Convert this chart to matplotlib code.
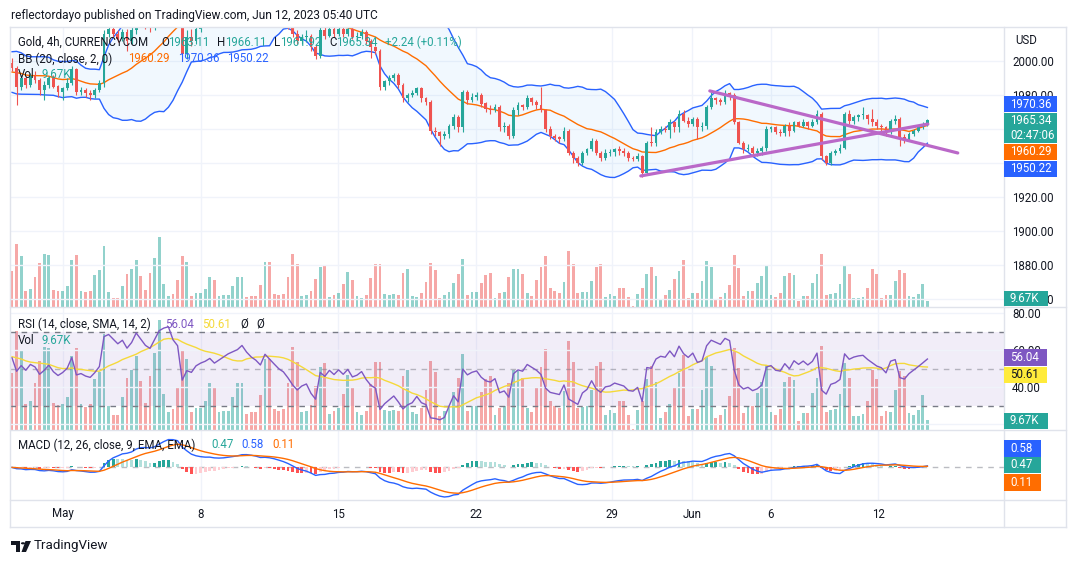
import numpy as np
import pandas as pd
import matplotlib
matplotlib.use("Agg")
import matplotlib.pyplot as plt
from matplotlib.patches import Rectangle, Polygon, Circle
from matplotlib.lines import Line2D

plt.rcParams['font.family'] = ['Roboto', 'DejaVu Sans']

# ---------------- data ----------------
first_open = 1999
closes = [
    1996, 1985, 1990, 1986, 1991, 1989, 1983, 1986, 1990, 1985,
    1982, 1984, 1987, 1995, 1982, 1983, 1981, 1980, 1983, 1987,
    2016, 2019, 2016, 2013, 2017, 2012, 2018, 2030, 2026, 2022,
    2020, 2030, 2042, 2046, 2048, 2040, 2036, 2004, 2014, 2012,
    2019, 2022, 2024, 2027, 2023, 2026, 2029, 2032, 2034, 2036,
    2040, 2036, 2033, 2031, 2028, 2036, 2033, 2030, 2027, 2025,
    2021, 2016, 2012, 2014, 2015, 2008, 2003, 2018, 2015, 2019,
    2016, 2019, 2016, 2019, 2014, 2015, 2017, 2012, 2008, 2006,
    1985, 1988, 1990, 1992, 1986, 1978, 1980, 1981, 1984, 1978,
    1976, 1959, 1958, 1956, 1957, 1962, 1967, 1961, 1982, 1977,
    1979, 1980, 1975, 1972, 1971, 1973, 1961, 1962, 1956, 1971,
    1974, 1973, 1978, 1976, 1974, 1971, 1960, 1956, 1955, 1954,
    1959, 1946, 1943, 1940, 1946, 1948, 1953, 1946, 1943, 1946,
    1946.5, 1948, 1947, 1946, 1943, 1942.5, 1944, 1934, 1952, 1951.5,
    1958, 1960, 1959.5, 1964, 1961, 1969, 1965, 1963, 1966, 1961,
    1962, 1973, 1978, 1977, 1976, 1981, 1980, 1964, 1952, 1948,
    1949, 1946, 1947, 1949, 1960, 1961, 1958, 1957.5, 1962, 1959,
    1964, 1962, 1964, 1962, 1964, 1969, 1944, 1940, 1946, 1947,
    1949, 1969, 1965, 1967, 1968, 1968.5, 1966, 1964, 1962, 1961,
    1958, 1965, 1966, 1955, 1954, 1957, 1959, 1961, 1963.11, 1965.34]
highs = [
    2002, 1997, 1992, 1991, 1993, 1994, 1990, 1988, 1991, 1992,
    1986, 1985, 1990, 1997, 1996, 1985, 1984, 1983, 1984, 1989,
    2018, 2022, 2021, 2018, 2019, 2019, 2020, 2033, 2034, 2028,
    2025, 2033, 2050, 2054, 2058, 2050, 2042, 2037, 2018, 2019,
    2022, 2025, 2027, 2030, 2029, 2028, 2031, 2034, 2037, 2039,
    2044, 2042, 2038, 2035, 2033, 2039, 2038, 2035, 2032, 2029,
    2027, 2023, 2018, 2016, 2018, 2016, 2010, 2020, 2020, 2021,
    2021, 2021, 2020, 2021, 2020, 2017, 2019, 2018, 2013, 2009,
    2007, 1989, 1992, 1993, 1993, 1987, 1981, 1983, 1985, 1985,
    1979, 1977, 1961, 1959, 1959, 1963, 1969, 1968, 1983, 1983,
    1981, 1982, 1981, 1976, 1974, 1975, 1974, 1964, 1963, 1973,
    1976, 1975, 1980, 1979, 1977, 1985, 1972, 1962, 1957, 1956,
    1961, 1960, 1947, 1944, 1947, 1949, 1955, 1954, 1947, 1948,
    1948, 1949, 1950, 1949, 1947, 1944, 1946, 1945, 1953, 1961,
    1960, 1962, 1962, 1966, 1965, 1971, 1971, 1967, 1967, 1967,
    1964, 1974, 1982, 1979, 1978, 1983, 1982, 1981, 1965, 1953,
    1951, 1950, 1949, 1950, 1962, 1962, 1962, 1960, 1963, 1964,
    1965, 1965, 1966, 1965, 1966, 1971, 1970, 1945, 1947, 1948,
    1951, 1970, 1971, 1968, 1969, 1973, 1969, 1972, 1966, 1963,
    1962, 1966, 1968, 1967, 1957, 1958, 1960, 1962, 1964, 1966.11]
lows = [
    1994, 1974, 1983, 1984, 1985, 1987, 1980, 1977, 1984, 1984,
    1979, 1977, 1983, 1986, 1980, 1980, 1979, 1977, 1978, 1982,
    1985, 2014, 2014, 2011, 2012, 2006, 2010, 2016, 2024, 2019,
    2017, 2018, 2028, 2040, 2044, 2036, 2032, 2000, 2001, 2009,
    2010, 2017, 2020, 2022, 2021, 2021, 2024, 2027, 2030, 2032,
    2034, 2034, 2031, 2029, 2026, 2026, 2031, 2028, 2025, 2023,
    2019, 2014, 2010, 2010, 2011, 2006, 2001, 2002, 2013, 2014,
    2014, 2015, 2014, 2015, 2013, 2012, 2013, 2010, 2002, 2004,
    1983, 1983, 1986, 1988, 1984, 1976, 1976, 1979, 1980, 1976,
    1974, 1957, 1956, 1950, 1954, 1955, 1960, 1958, 1958, 1975,
    1976, 1977, 1973, 1970, 1969, 1970, 1959, 1958, 1954, 1955,
    1968, 1971, 1972, 1974, 1972, 1970, 1958, 1954, 1953, 1952,
    1953, 1945, 1940, 1938, 1939, 1945, 1947, 1945, 1941, 1942,
    1944, 1944, 1945, 1944, 1941, 1941, 1941, 1932, 1933, 1950,
    1950, 1957, 1958, 1955, 1958, 1958, 1964, 1961, 1962, 1954,
    1959, 1960, 1972, 1975, 1974, 1975, 1977, 1963, 1951, 1946,
    1947, 1944, 1944, 1945, 1947, 1958, 1957, 1956, 1956, 1956,
    1958, 1961, 1961, 1960, 1961, 1963, 1942, 1939, 1939, 1945,
    1946, 1948, 1963, 1963, 1965, 1966, 1963, 1962, 1960, 1959,
    1956, 1957, 1963, 1950, 1952, 1953, 1956, 1958, 1960, 1961.92]
volumes_k = [
    54.5, 95, 77, 24.5, 27.5, 45.5, 66.5, 80, 78.5, 26,
    24, 24.5, 32, 71, 78.5, 24.5, 22.5, 24.5, 48.5, 56,
    92, 23, 14, 14, 32, 50, 57.5, 71, 47, 26,
    51.5, 74, 105.5, 35, 17, 20, 41, 77, 68, 17,
    21.5, 21.5, 27.5, 45.5, 41, 17, 18, 18.5, 32, 45.5,
    45.5, 15.5, 17, 17, 33.5, 68, 68, 20, 18.5, 20,
    45.5, 80, 65.5, 17, 18.5, 24, 42.5, 60.5, 64, 15.5,
    18.5, 21, 35, 53, 41, 17, 14, 18.5, 44, 65.5,
    65, 19.5, 18.5, 19, 18.5, 51.5, 57.5, 17, 15.5, 21.5,
    38, 66.5, 56, 13.5, 18.5, 23, 36.5, 50, 72.5, 18.5,
    23, 23, 36.5, 48.5, 51.5, 14, 21, 23, 45.5, 57.5,
    57, 50, 21.5, 17, 41, 60, 77.5, 28, 23.5, 21,
    37, 85, 65.5, 21, 22, 23, 38.5, 61, 65.5, 14.5,
    19, 16, 28, 28, 14.5, 1, 19, 28, 49, 61,
    46, 11.5, 17.5, 25, 41.5, 55, 71.5, 13, 20.5, 20.5,
    38.5, 70, 61, 11.5, 14.5, 20.5, 32.5, 79, 59.5, 16,
    23.5, 23.5, 35.5, 46, 62.5, 17.5, 14.5, 20.5, 46, 50.5,
    48, 8.5, 16, 16, 35.5, 49.5, 80.5, 17.5, 19, 20.5,
    34.5, 64, 49.5, 13, 13, 15.5, 28, 58, 49, 13,
    18.5, 17.5, 38.5, 56.5, 51.5, 16, 14.5, 19, 34, 9.67]
# closes before the visible range (estimated so the indicators start as shown)
warmup_closes = [1994, 1998, 1991, 1987, 1993, 1999, 1996, 1989, 1992, 1997,
                 1985, 1992, 2000, 2004, 1997, 1990, 1983, 1988, 1995, 2001,
                 1998, 1991, 1984, 1987, 1994, 2002, 1999, 1993, 1986, 1990]
# trend lines drawn on the chart: (bar, price) endpoints
trend_upper = [(151.7, 1982.4), (205.6, 1945.9)]
trend_lower = [(136.7, 1932.4), (199.1, 1962.9)]
date_tick_bars = [11.1, 41.1, 70.9, 100.9, 130.4, 147.8, 165.0, 188.3]
date_tick_labels = ['May', '8', '15', '22', '29', 'Jun', '6', '12']
price_ticks = [1860, 1880, 1900, 1920, 1940, 1960, 1980, 2000]
price_tick_labels = ['1860.00', '1880.00', '1900.00', '1920.00', '', '', '1980.00', '2000.00']
rsi_ticks = [20, 40, 60, 80]
rsi_tick_labels = ['', '40.00', '60.00', '80.00']

# ---------------- indicators ----------------
n_w = len(warmup_closes)
allc = pd.Series(warmup_closes + closes, dtype=float)
mid = allc.rolling(20).mean()
sd = allc.rolling(20).std(ddof=0)
upper = (mid + 2 * sd).values[n_w:]
lower = (mid - 2 * sd).values[n_w:]
mid = mid.values[n_w:]
delta = allc.diff()
ag = delta.clip(lower=0).ewm(alpha=1 / 14, adjust=False).mean()
al = (-delta.clip(upper=0)).ewm(alpha=1 / 14, adjust=False).mean()
rsi_s = 100 - 100 / (1 + ag / al)
rsi_ma = rsi_s.rolling(14).mean().values[n_w:]
rsi = rsi_s.values[n_w:]
macd_s = allc.ewm(span=12, adjust=False).mean() - allc.ewm(span=26, adjust=False).mean()
sig_s = macd_s.ewm(span=9, adjust=False).mean()
macd = macd_s.values[n_w:]
sig = sig_s.values[n_w:]
hist = macd - sig

c = np.array(closes, float)
o = np.array([first_open] + closes[:-1], float)
h = np.array(highs, float)
l = np.array(lows, float)
v = np.array(volumes_k, float)
N = len(c)
x = np.arange(N)

GREEN = '#26a69a'
RED = '#ef5350'
BLUE = '#2962ff'
ORANGE = '#ff6d00'
PURPLE = '#7e57c2'
YELLOW = '#f5d93a'
DARK = '#131722'
GRID = '#f0f3fa'
BORDER = '#e0e3eb'

up = c >= o
col = np.where(up, GREEN, RED)

# ---------------- figure ----------------
W, H = 1079, 563
fig = plt.figure(figsize=(W / 100, H / 100), dpi=100)
fig.patch.set_facecolor('white')


def fx(px):
    return px / W


def fy(py):
    return 1 - py / H


def add_ax(x0, y0, x1, y1, z=0):
    a = fig.add_axes([fx(x0), fy(y1), (x1 - x0) / W, (y1 - y0) / H])
    a.set_zorder(z)
    for s_ in a.spines.values():
        s_.set_visible(False)
    return a


X0PIX, DX = 12.0, 4.6
XL, XR = 10, 1004
xlim = ((XL - X0PIX) / DX, (XR - X0PIX) / DX)

ax_v = add_ax(XL, 27, XR, 307, 0)
ax = add_ax(XL, 27, XR, 307, 1)
ax_rv = add_ax(XL, 307, XR, 430, 0)
ax_r = add_ax(XL, 307, XR, 430, 1)
ax_m = add_ax(XL, 430, XR, 500, 1)

for a in (ax, ax_r):
    a.patch.set_visible(False)
for a in (ax_v, ax, ax_rv, ax_r, ax_m):
    a.set_xlim(*xlim)
    a.set_xticks(date_tick_bars)
    a.tick_params(axis='x', length=0, labelbottom=False)
    a.tick_params(axis='y', length=0)
for a in (ax_v, ax_rv):
    a.set_yticks([])
    a.grid(axis='x', color=GRID, lw=1)
    a.set_axisbelow(True)
ax_m.grid(axis='x', color=GRID, lw=1)
ax_m.set_axisbelow(True)
ax_m.set_yticks([])

# ---- main pane ----
ax.set_ylim(1980 - (307 - 95) / 1.7, 1980 + (95 - 27) / 1.7)
ax.set_yticks(price_ticks)
ax.set_yticklabels(price_tick_labels)
ax.yaxis.tick_right()
ax.tick_params(axis='y', length=0, pad=5.8, labelsize=8.3, labelcolor=DARK)
ax.grid(axis='y', color=GRID, lw=1)
ax.set_axisbelow(True)

ax.fill_between(x, lower, upper, color='#2196f3', alpha=0.06, lw=0, zorder=1)
ax.plot(x, upper, color=BLUE, lw=1.0, zorder=2)
ax.plot(x, lower, color=BLUE, lw=1.0, zorder=2)
ax.plot(x, mid, color=ORANGE, lw=1.0, zorder=2)
ax.vlines(x, l, h, colors=col, lw=0.8, zorder=3)
ax.bar(x, np.maximum(np.abs(c - o), 0.6), bottom=np.minimum(o, c), width=0.62,
       color=col, lw=0, zorder=4)
for seg in (trend_upper, trend_lower):
    ax.plot([seg[0][0], seg[1][0]], [seg[0][1], seg[1][1]], color='#ba68c8',
            lw=2.3, solid_capstyle='round', zorder=5)

ax_v.set_ylim(0, 422)
ax_v.bar(x, v, width=0.62, color=col, alpha=0.5, lw=0)

# ---- RSI pane ----
ax_r.set_ylim(80 - (430 - 313) * 20 / 37, 80 + (313 - 307) * 20 / 37)
ax_r.set_yticks(rsi_ticks)
ax_r.set_yticklabels(rsi_tick_labels)
ax_r.yaxis.tick_right()
ax_r.tick_params(axis='y', length=0, pad=5.8, labelsize=8.3, labelcolor=DARK)
ax_r.grid(axis='y', color=GRID, lw=1)
ax_r.set_axisbelow(True)
ax_r.axhspan(30, 70, color=PURPLE, alpha=0.1, lw=0, zorder=0.5)
ax_r.axhline(70, color='#787b86', lw=1, ls=(0, (4, 4)), zorder=1)
ax_r.axhline(30, color='#787b86', lw=1, ls=(0, (4, 4)), zorder=1)
ax_r.axhline(50, color='#787b86', lw=1, ls=(0, (4, 4)), alpha=0.5, zorder=1)
ax_r.plot(x, rsi_ma, color=YELLOW, lw=1.0, zorder=3)
ax_r.plot(x, rsi, color=PURPLE, lw=1.0, zorder=4)
ax_rv.set_ylim(0, 118)
ax_rv.bar(x, v, width=0.62, color=col, alpha=0.5, lw=0)

# ---- MACD pane ----
hcol = []
for i in range(N):
    prev = hist[i - 1] if i > 0 else hist[i]
    if hist[i] >= 0:
        hcol.append(GREEN if hist[i] > prev else '#b2dfdb')
    else:
        hcol.append('#ffcdd2' if hist[i] > prev else '#ff5252')
s = max(np.abs(macd).max(), np.abs(sig).max()) / 30.0
ax_m.set_ylim(-33 * s, 37 * s)
ax_m.axhline(0, color='#787b86', lw=1, ls=(0, (4, 4)), alpha=0.5, zorder=1)
ax_m.bar(x, hist, width=0.62, color=hcol, lw=0, zorder=2)
ax_m.plot(x, macd, color=BLUE, lw=1.0, zorder=3)
ax_m.plot(x, sig, color=ORANGE, lw=1.0, zorder=3)
ax_m.set_xticklabels(date_tick_labels)
ax_m.tick_params(axis='x', labelbottom=True, pad=5.4, labelsize=8.3, labelcolor=DARK)

# ---------------- frame lines ----------------
def fline(x0, y0, x1, y1, color=BORDER, lw=1.0):
    fig.add_artist(Line2D([fx(x0), fx(x1)], [fy(y0), fy(y1)], transform=fig.transFigure,
                          color=color, lw=lw, zorder=5))

fline(10, 27, 1066, 27)
fline(10, 527, 1066, 527)
fline(10, 27, 10, 527)
fline(1066, 27, 1066, 527)
fline(1004, 27, 1004, 527)
fline(10, 307, 1066, 307)
fline(10, 430, 1066, 430)
fline(10, 500, 1066, 500)

# ---------------- texts ----------------
FS = 8.3


def ftext(px, py, s_, color=DARK, size=FS, **kw):
    fig.text(fx(px), fy(py), s_, color=color, fontsize=size, va='center', ha='left', **kw)


ftext(11, 15, 'reflectordayo published on TradingView.com, Jun 12, 2023 05:40 UTC', size=8.6)

for txt, px, colr in [('Gold, 4h, CURRENCYCOM', 18, DARK), ('O', 161, DARK), ('1963.11', 168, GREEN),
                      ('H', 217, DARK), ('1966.11', 225, GREEN), ('L', 274, DARK),
                      ('1961.92', 280, GREEN), ('C', 329, DARK), ('1965.34', 336, GREEN),
                      ('+2.24 (+0.11%)', 385, GREEN)]:
    ftext(px, 42, txt, colr)
for txt, px, colr in [('BB (20, close, 2, 0)', 18, DARK), ('1960.29', 128, ORANGE),
                      ('1970.36', 178, BLUE), ('1950.22', 227, BLUE)]:
    ftext(px, 59, txt, colr)
ftext(18, 75, 'Vol', DARK)
ftext(42, 75, '9.67K', GREEN)

for txt, px, colr in [('RSI (14, close, SMA, 14, 2)', 18, DARK), ('56.04', 165, PURPLE),
                      ('50.61', 202, YELLOW), ('Ø', 240, DARK), ('Ø', 256, DARK)]:
    ftext(px, 324, txt, colr)
ftext(18, 340, 'Vol', DARK)
ftext(42, 340, '9.67K', GREEN)

for txt, px, colr in [('MACD (12, 26, close, 9, EMA, EMA)', 18, DARK), ('0.47', 211, GREEN),
                      ('0.58', 241, BLUE), ('0.11', 272, ORANGE)]:
    ftext(px, 445, txt, colr)

ftext(1015, 40, 'USD', DARK)


def axis_box(y0, y1, w, color, lines, tc='white'):
    fig.add_artist(Rectangle((fx(1004), fy(y1)), w / W, (y1 - y0) / H, transform=fig.transFigure,
                             facecolor=color, edgecolor='none', zorder=10))
    k = len(lines)
    for j, t in enumerate(lines):
        yc = y0 + (y1 - y0) * (j + 0.5) / k
        fig.text(fx(1010), fy(yc), t, color=tc, fontsize=FS, va='center', ha='left', zorder=11)


axis_box(96, 112, 53, BLUE, ['1970.36'])
axis_box(113, 143, 53, GREEN, ['1965.34', '02:47:06'])
axis_box(144, 160, 53, ORANGE, ['1960.29'])
axis_box(161, 177, 53, BLUE, ['1950.22'])
axis_box(291, 306, 44, GREEN, ['9.67K'])
axis_box(349, 366, 43, PURPLE, ['56.04'])
axis_box(367, 383, 43, '#ffeb3b', ['50.61'], tc=DARK)
axis_box(413, 429, 44, GREEN, ['9.67K'])
axis_box(440, 457, 37, BLUE, ['0.58'])
axis_box(457, 473, 37, GREEN, ['0.47'])
axis_box(474, 491, 37, ORANGE, ['0.11'])

# footer logo
def fpoly(pts, color=DARK):
    fig.add_artist(Polygon([(fx(a), fy(b)) for a, b in pts], closed=True, transform=fig.transFigure,
                           facecolor=color, edgecolor='none'))

fpoly([(11, 541), (20, 541), (20, 552), (16, 552), (16, 545), (11, 545)])
fig.add_artist(Circle((fx(23), fy(543.3)), 2.1 / W, transform=fig.transFigure, facecolor=DARK,
                      edgecolor='none'))
fpoly([(25.5, 541), (31, 541), (26, 552), (21.5, 552)])
ftext(34, 546, 'TradingView', DARK, size=9.6)

fig.savefig('out.png', dpi=100, facecolor='white')
